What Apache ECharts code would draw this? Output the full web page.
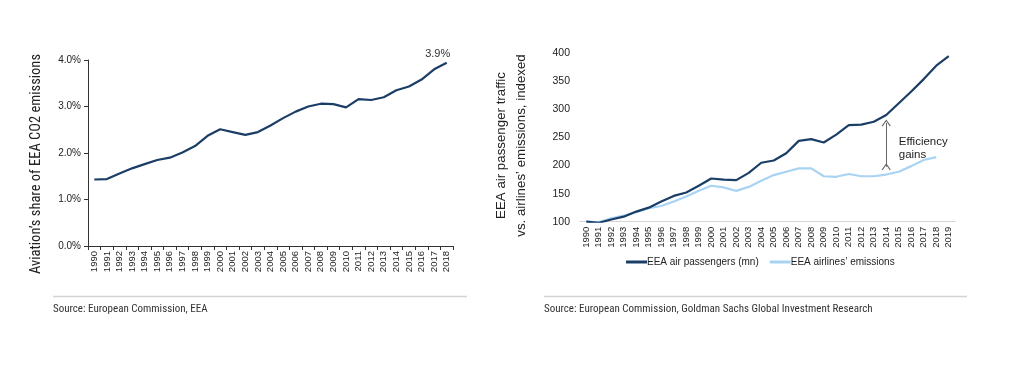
<!DOCTYPE html>
<html><head><meta charset="utf-8">
<script src="https://cdn.jsdelivr.net/npm/echarts@6/dist/echarts.min.js"></script>
<style>html,body{margin:0;padding:0;background:#fff}#c{width:1024px;height:365px}</style>
</head><body><div id="c"></div>
<script>
// Left chart: aviation share of EEA CO2 emissions (%)
const yearsLeft = ['1990','1991','1992','1993','1994','1995','1996','1997','1998','1999','2000','2001','2002','2003','2004','2005','2006','2007','2008','2009','2010','2011','2012','2013','2014','2015','2016','2017','2018'];
const shareValues = [1.43,1.44,1.56,1.67,1.76,1.85,1.90,2.01,2.15,2.37,2.51,2.45,2.39,2.45,2.59,2.75,2.89,3.00,3.06,3.05,2.98,3.16,3.14,3.20,3.35,3.43,3.58,3.80,3.94];
const shareTicks = ['0.0%','1.0%','2.0%','3.0%','4.0%'];
const lastLabel = '3.9%';

// Right chart: indexed traffic vs emissions
const yearsRight = ['1990','1991','1992','1993','1994','1995','1996','1997','1998','1999','2000','2001','2002','2003','2004','2005','2006','2007','2008','2009','2010','2011','2012','2013','2014','2015','2016','2017','2018','2019'];
const passengers = [100,98,104,109,118,125,136,146,152,164,177,175,174,187,205,209,222,244,247,241,255,272,273,278,290,311,332,354,378,395];
const emissions = [100,99,106,111,117,124,128,136,145,155,164,161,155,162,173,183,189,195,195,181,180,185,181,181,184,189,199,210,215];
const arrowYear = '2014';
const arrowFrom = 276;
const arrowTo = 198;
const noteYear = '2015';
const noteValue = 230;

const dark = '#1B3E66';
const light = '#A8D3F3';
const txt = '#222';
const narrow = "'Roboto Condensed','DejaVu Sans Condensed','Liberation Sans Narrow','Liberation Sans'";
const sans = "'Liberation Sans'";

const chart = echarts.init(document.getElementById('c'), null, {renderer:'canvas'});
chart.setOption({
  animation:false,
  textStyle:{fontFamily:sans},
  grid:[
    {left:88, right:571, top:60, bottom:119, containLabel:false},
    {left:580, right:69, top:53.3, bottom:143.3, containLabel:false}
  ],
  legend:{
    data:['EEA air passengers (mn)','EEA airlines\u2019 emissions'],
    left:626, top:257, padding:0,
    itemWidth:21, itemHeight:3, itemGap:11,
    icon:'rect',
    textStyle:{fontSize:10, color:txt, padding:[0,0,0,-5]}
  },
  xAxis:[
    {type:'category', gridIndex:0, data:yearsLeft, boundaryGap:true,
     axisLine:{lineStyle:{color:'#333', width:1}},
     axisTick:{show:true, alignWithLabel:false, length:4, lineStyle:{color:'#333'}},
     axisLabel:{rotate:90, fontSize:9.5, color:txt, margin:5, interval:0}},
    {type:'category', gridIndex:1, data:yearsRight, boundaryGap:true,
     axisLine:{lineStyle:{color:'#ccc', width:1, type:'dotted'}},
     axisTick:{show:false},
     axisLabel:{rotate:90, fontSize:9.5, color:txt, margin:5, interval:0}}
  ],
  yAxis:[
    {type:'value', gridIndex:0, min:0, max:4, interval:1,
     name:'Aviation\u2019s share of EEA CO2 emissions', nameLocation:'middle', nameGap:44, nameRotate:90,
     nameTextStyle:{fontSize:14.5, color:txt, fontFamily:narrow, padding:[0,0,0,-22]},
     axisLine:{show:true, lineStyle:{color:'#333'}},
     axisTick:{show:true, length:4, lineStyle:{color:'#333'}},
     splitLine:{show:false},
     axisLabel:{fontSize:10, color:txt, margin:7, formatter:(v)=>shareTicks[Math.round(v)]}},
    {type:'value', gridIndex:1, min:100, max:400, interval:50,
     name:'EEA air passenger traffic\nvs. airlines\u2019 emissions, indexed', nameLocation:'middle', nameGap:49, nameRotate:90,
     nameTextStyle:{fontSize:13.3, color:txt, fontFamily:sans, lineHeight:20, padding:[0,0,0,-16]},
     axisLine:{show:false}, axisTick:{show:false},
     splitLine:{show:false},
     axisLabel:{fontSize:10.5, color:txt, margin:10}}
  ],
  series:[
    {type:'line', xAxisIndex:0, yAxisIndex:0, data:shareValues, symbol:'none',
     lineStyle:{color:dark, width:2.2}, itemStyle:{color:dark},
     markPoint:{silent:true, symbol:'circle', symbolSize:0,
       data:[{coord:[yearsLeft[yearsLeft.length-1], shareValues[shareValues.length-1]],
         label:{show:true, formatter:lastLabel, position:'top', distance:3, offset:[-9,0], color:'#333', fontSize:11}}]}},
    {type:'line', name:'EEA airlines\u2019 emissions', xAxisIndex:1, yAxisIndex:1, data:emissions, symbol:'none',
     lineStyle:{color:light, width:2.2}, itemStyle:{color:light}},
    {type:'line', name:'EEA air passengers (mn)', xAxisIndex:1, yAxisIndex:1, data:passengers, symbol:'none',
     lineStyle:{color:dark, width:2.2}, itemStyle:{color:dark},
     markLine:{silent:true, symbol:['path://M0,9 L5,0 L10,9 L9,10 L5,2.5 L1,10 Z','path://M0,9 L5,0 L10,9 L9,10 L5,2.5 L1,10 Z'],
       symbolSize:[9,7], symbolRotate:0,
       lineStyle:{color:'#666', width:1, type:'solid'}, label:{show:false},
       data:[[{coord:[arrowYear, arrowFrom]},{coord:[arrowYear, arrowTo]}]]},
     markPoint:{silent:true, symbol:'circle', symbolSize:0,
       data:[{coord:[noteYear, noteValue], label:{show:true, formatter:'Efficiency\ngains', position:'right', distance:0, color:txt, fontSize:11.5, lineHeight:13, align:'left'}}]}}
  ],
  graphic:[
    {type:'line', shape:{x1:53, y1:296.5, x2:467, y2:296.5}, style:{stroke:'#d4d4d4', lineWidth:1.5}},
    {type:'line', shape:{x1:544, y1:296.5, x2:967, y2:296.5}, style:{stroke:'#d4d4d4', lineWidth:1.5}},
    {type:'text', left:53, top:304, style:{text:'Source: European Commission, EEA', fontSize:11, fill:'#333', fontFamily:narrow}},
    {type:'text', left:544, top:304, style:{text:'Source: European Commission, Goldman Sachs Global Investment Research', fontSize:11, fill:'#333', fontFamily:narrow}}
  ]
});
</script></body></html>
